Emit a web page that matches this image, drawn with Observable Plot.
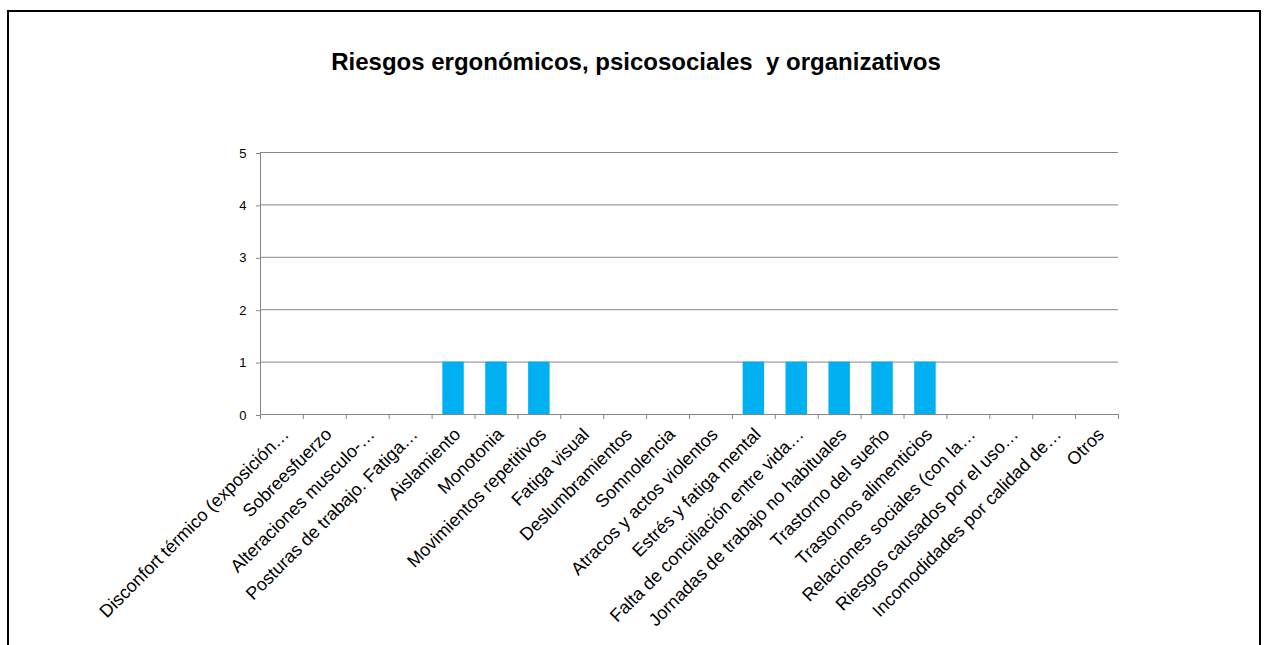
<!DOCTYPE html>
<html>
<head>
<meta charset="utf-8">
<script src="https://cdn.jsdelivr.net/npm/d3@7"></script>
<script src="https://cdn.jsdelivr.net/npm/@observablehq/plot@0.6"></script>
<style>
  html, body { margin: 0; padding: 0; background: #fff; overflow: hidden; }
  #wrap { position: relative; width: 1269px; height: 645px; overflow: hidden; font-family: "Liberation Sans", Arial, sans-serif; }
  #frame { position: absolute; left: 7px; top: 10px; width: 1254px; height: 700px; border: 2px solid #000; box-sizing: border-box; }
  #title { position: absolute; left: 0; width: 1272px; top: 48px; text-align: center; font-size: 24px; font-weight: bold; color: #000; white-space: pre; }
  #chart { position: absolute; left: 0; top: 0; }
</style>
</head>
<body>
<div id="wrap">
  <div id="frame"></div>
  <div id="chart"></div>
  <div id="title">Riesgos ergonómicos, psicosociales  y organizativos</div>
</div>
<script>
const categories = [
  "Disconfort térmico (exposición…",
  "Sobreesfuerzo",
  "Alteraciones musculo-…",
  "Posturas de trabajo. Fatiga…",
  "Aislamiento",
  "Monotonia",
  "Movimientos repetitivos",
  "Fatiga visual",
  "Deslumbramientos",
  "Somnolencia",
  "Atracos y actos violentos",
  "Estrés y fatiga mental",
  "Falta de conciliación entre vida…",
  "Jornadas de trabajo no habituales",
  "Trastorno del sueño",
  "Trastornos alimenticios",
  "Relaciones sociales (con la…",
  "Riesgos causados por el uso…",
  "Incomodidades por calidad de…",
  "Otros"
];
const values = [0, 0, 0, 0, 1, 1, 1, 0, 0, 0, 0, 1, 1, 1, 1, 1, 0, 0, 0, 0];
const yTicks = [0, 1, 2, 3, 4, 5];

const data = categories.map((c, i) => ({category: c, value: values[i]}));

const W = 1269, H = 645;
const mL = 260, mR = 151, mT = 152, mB = 231;
const bw = (W - mL - mR) / categories.length;
const gray = "#868686";

const chart = Plot.plot({
  width: W,
  height: H,
  marginLeft: mL,
  marginRight: mR,
  marginTop: mT,
  marginBottom: mB,
  style: {fontFamily: "'Liberation Sans', Arial, sans-serif", fontSize: "13px", color: "#000", background: "transparent"},
  x: {type: "band", domain: categories, padding: 0, round: false, axis: null, label: null},
  y: {domain: [0, 5], axis: null, label: null},
  marks: [
    Plot.gridY(yTicks, {stroke: gray, strokeOpacity: 1, strokeWidth: 1}),
    Plot.barY(data, {x: "category", y: "value", fill: "#00B0F0", insetLeft: bw / 4, insetRight: bw / 4}),
    Plot.ruleY([0], {stroke: gray, strokeWidth: 1}),
    Plot.ruleX([categories[0]], {stroke: gray, strokeWidth: 1, dx: -bw / 2}),
    Plot.axisY({ticks: yTicks, tickSize: 4, tickPadding: 10, tickFormat: d3.format("d"), label: null, stroke: gray, fontSize: 13, fill: "#000", dy: 1}),
    Plot.axisX({ticks: categories, tickSize: 5, tickFormat: () => "", label: null, stroke: gray, dx: -bw / 2}),
    Plot.axisX({ticks: [categories[categories.length - 1]], tickSize: 5, tickFormat: () => "", label: null, stroke: gray, dx: bw / 2}),
    Plot.text(categories, {x: d => d, frameAnchor: "bottom", text: d => d, rotate: -45, textAnchor: "end", lineAnchor: "top", dx: -1, dy: 12, fontSize: 18, fill: "#000"})
  ]
});
document.getElementById("chart").appendChild(chart);
</script>
</body>
</html>
